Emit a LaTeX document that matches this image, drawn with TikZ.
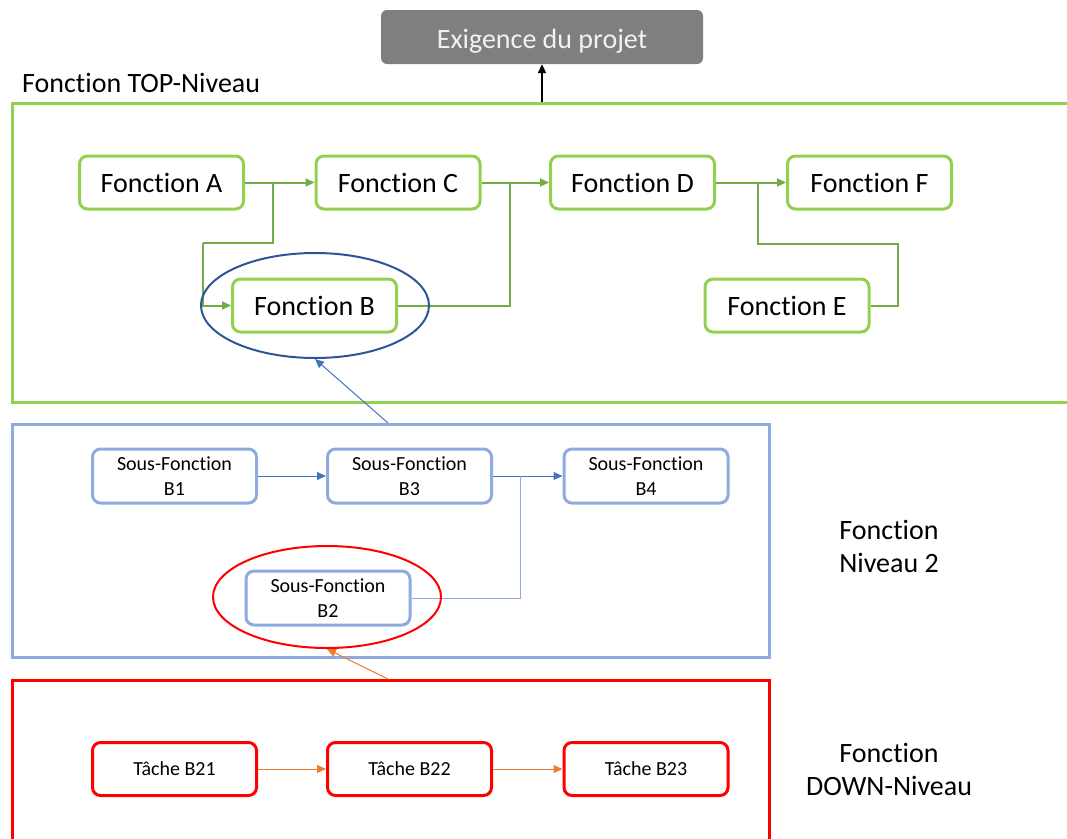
\documentclass[tikz,border=0pt]{standalone}
\usepackage{fontspec}
\setmainfont{Carlito}[Ligatures=NoCommon]
\usetikzlibrary{arrows.meta,shapes.geometric}
\definecolor{gr}{HTML}{92D050}
\definecolor{grd}{HTML}{70AD47}
\definecolor{bl}{HTML}{8FAADC}
\definecolor{bld}{HTML}{4472C4}
\definecolor{dblue}{HTML}{2F5597}
\definecolor{org}{HTML}{ED7D31}
\definecolor{exg}{HTML}{7F7F7F}
\begin{document}
\begin{tikzpicture}[x=1pt,y=-1pt,
  gbox/.style={draw=gr, line width=3pt, rounded corners=8pt, fill=white, minimum width=164pt, minimum height=53pt, inner sep=0pt, font=\fontsize{28}{34}\selectfont},
  bbox/.style={draw=bl, line width=3pt, rounded corners=8pt, fill=white, minimum width=164pt, minimum height=54pt, inner sep=0pt, align=center, font=\fontsize{20}{25}\selectfont},
  rbox/.style={draw=red, line width=3pt, rounded corners=8pt, fill=white, minimum width=164pt, minimum height=53pt, inner sep=0pt, font=\fontsize{20}{24}\selectfont},
  gline/.style={draw=grd, line width=2pt},
  garrow/.style={gline, -{Triangle[length=9pt,width=8pt]}},
  bline/.style={draw=bld, line width=1pt},
  barrow/.style={bline, -{Triangle[length=9pt,width=8pt]}},
  oarrow/.style={draw=org, line width=1pt, -{Triangle[length=9pt,width=8pt]}},
  biglabel/.style={font=\fontsize{28}{33}\selectfont, align=center, inner sep=0pt},
  ring/.style={ellipse, fill=none, inner sep=0pt}
]
\useasboundingbox (0,0) rectangle (1067,838);
\clip (0,0) rectangle (1067,838);

% level frames
\draw[gr, line width=3pt] (1090,103) -- (12,103) -- (12,402) -- (1090,402);
\draw[bl, line width=3pt] (12,424) rectangle (769,657);
\draw[red, line width=3pt] (12,860) -- (12,680) -- (769,680) -- (769,860);

% top requirement
\node[fill=exg, rounded corners=6pt, minimum width=322pt, minimum height=54pt, inner sep=0pt, text height=22pt, text depth=0pt, text=white!95!black, font=\fontsize{28}{34}\selectfont] (exig) at (542,37) {Exigence du projet};
\coordinate (topmid) at (542,102);
\draw[black, line width=2pt, -{Triangle[length=9pt,width=8pt]}] (topmid) -- (exig.south);
\node[anchor=base west, inner sep=0pt, font=\fontsize{28}{34}\selectfont] (ttop) at (22,92) {Fonction TOP-Niveau};

% top-level functions
\node[gbox] (A) at (161.5,182.5) {Fonction A};
\node[gbox] (C) at (398,182.5) {Fonction C};
\node[gbox] (D) at (632.5,182.5) {Fonction D};
\node[gbox] (F) at (869.5,182.5) {Fonction F};
\node[gbox] (B) at (314.5,305.5) {Fonction B};
\node[gbox] (E) at (787,305.5) {Fonction E};

\coordinate (jA) at (273,182.5);
\coordinate (jC) at (510,182.5);
\coordinate (jD) at (758,182.5);
\draw[garrow] (A.east) -- (C.west);
\draw[gline] (jA) |- (203,243);
\draw[garrow] (203,243) |- (B.west);
\draw[garrow] (C.east) -- (D.west);
\draw[gline] (B.east) -| (jC);
\draw[garrow] (D.east) -- (F.west);
\draw[gline] (jD) |- (898,244) |- (E.east);

\node[ring, draw=dblue, line width=2pt, minimum width=228pt, minimum height=105pt] (eB) at (315,305.5) {};

% level 2
\node[bbox] (B1) at (174.5,476) {Sous-Fonction\\B1};
\node[bbox] (B3) at (409.5,476) {Sous-Fonction\\B3};
\node[bbox] (B4) at (646,476) {Sous-Fonction\\B4};
\node[bbox] (B2) at (328,598) {Sous-Fonction\\B2};
\coordinate (jB3) at (520,476);
\draw[barrow] (B1.east) -- (B3.west);
\draw[barrow] (B3.east) -- (B4.west);
\draw[draw=bl, line width=1pt] (B2.east) -| (jB3);
\node[ring, draw=red, line width=2pt, minimum width=228pt, minimum height=102pt] (eB2) at (327,597) {};

\coordinate (l2top) at (388,423);
\draw[barrow] (l2top) -- (eB.south);

% down level
\node[rbox] (T1) at (174.5,769) {Tâche B21};
\node[rbox] (T2) at (409.5,769) {Tâche B22};
\node[rbox] (T3) at (646,769) {Tâche B23};
\draw[oarrow] (T1.east) -- (T2.west);
\draw[oarrow] (T2.east) -- (T3.west);
\coordinate (l3top) at (388,679);
\draw[oarrow] (l3top) -- (eB2.south);

% right-hand labels
\node[biglabel] (lab2) at (889,546) {Fonction\\Niveau 2};
\node[biglabel] (lab3) at (889,769) {Fonction\\DOWN-Niveau};
\end{tikzpicture}
\end{document}
